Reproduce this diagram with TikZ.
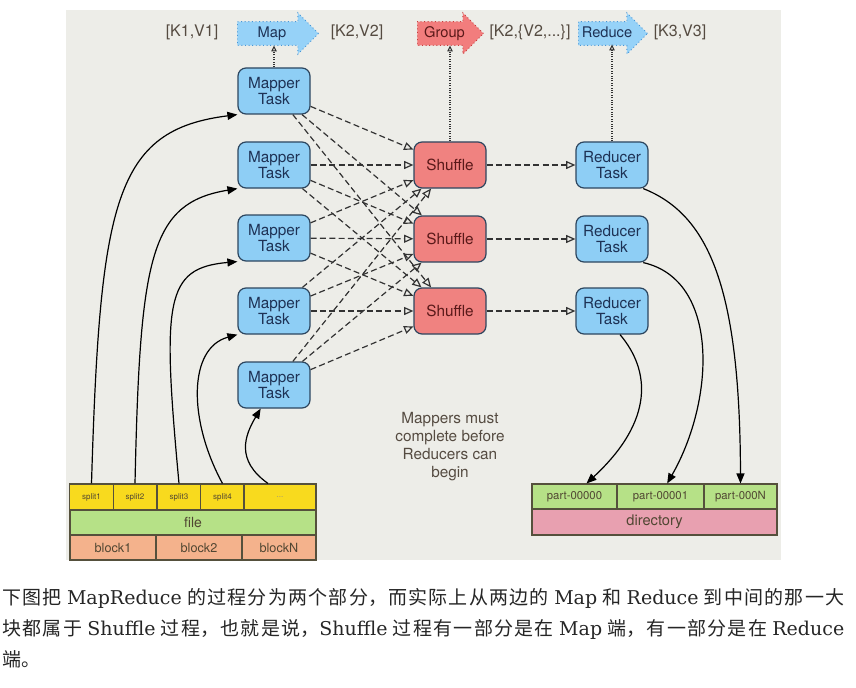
\documentclass[tikz,border=0pt]{standalone}
\usepackage{fontspec}
\setsansfont{TeX Gyre Heros}
\newfontfamily\cjk{Noto Sans CJK SC}
\newfontfamily\latserif{DejaVu Serif}
\usetikzlibrary{positioning, arrows.meta, shapes.arrows}
\definecolor{panelgray}{RGB}{237,237,232}
\definecolor{taskblue}{RGB}{142,206,245}
\definecolor{taskedge}{RGB}{45,70,95}
\definecolor{tasktext}{RGB}{30,50,85}
\definecolor{shufflered}{RGB}{240,130,128}
\definecolor{shuffletext}{RGB}{90,25,25}
\definecolor{stageblue}{RGB}{150,210,248}
\definecolor{stageedge}{RGB}{70,150,215}
\definecolor{stagered}{RGB}{242,125,125}
\definecolor{stagerededge}{RGB}{200,60,60}
\definecolor{splityellow}{RGB}{248,218,30}
\definecolor{filegreen}{RGB}{182,225,135}
\definecolor{blockorange}{RGB}{244,178,140}
\definecolor{dirpink}{RGB}{232,160,176}
\definecolor{celledge}{RGB}{85,80,60}
\definecolor{celltext}{RGB}{80,70,50}
\definecolor{labeltext}{RGB}{85,75,65}
\newcommand{\lat}[1]{{\latserif #1}}
\XeTeXlinebreaklocale "zh"
\XeTeXlinebreakskip=0pt plus 2pt

\begin{document}
\begin{tikzpicture}[x=0.75pt, y=-0.75pt, >=Stealth,
    task/.style={draw=taskedge, fill=taskblue, line width=0.9pt, rounded corners=6pt,
      minimum width=54pt, minimum height=34.5pt, inner sep=0pt, align=center,
      text=tasktext, font=\sffamily\fontsize{11.5}{12.5}\selectfont},
    shuffle/.style={task, fill=shufflered, text=shuffletext},
    stage/.style={single arrow, single arrow head extend=6.5pt, dotted, line width=0.7pt,
      inner xsep=2pt, inner ysep=3.6pt, text height=8pt, text depth=2pt, anchor=tail,
      text=tasktext, font=\sffamily\fontsize{11}{12}\selectfont},
    kv/.style={text=labeltext, font=\sffamily\fontsize{12}{13}\selectfont},
    cell/.style={draw=celledge, line width=0.8pt, inner sep=0pt, minimum height=18.75pt, text=celltext},
    flow/.style={dash pattern=on 4.5pt off 2.5pt, line width=0.9pt, draw=black!80,
      -{Triangle[open, length=7pt, width=6pt]}},
    tostage/.style={densely dotted, line width=0.8pt, draw=black!80,
      -{Triangle[open, length=4.5pt, width=4pt]}},
    feed/.style={line width=0.9pt, -{Triangle[length=7.5pt, width=6pt]}}
  ]
  \useasboundingbox (0,0) rectangle (856,688);
  \fill[white] (0,0) rectangle (856,688);
  \fill[panelgray] (66,10) rectangle (781,560);

  \node[kv] (kv1) at (192,32) {[K1,V1]};
  \node[stage, fill=stageblue, draw=stageedge, minimum height=60.75pt] (map) at (237,33.5) {Map};
  \node[kv] (kv2) at (357,32) {[K2,V2]};
  \node[stage, fill=stagered, draw=stagerededge, text=shuffletext, minimum height=49.5pt] (group) at (417,33.5) {Group};
  \node[kv] (kv3) at (530,32) {[K2,\{V2,...\}]};
  \node[stage, fill=stageblue, draw=stageedge, minimum height=51.75pt] (reduce) at (578,33.5) {Reduce};
  \node[kv] (kv4) at (680,32) {[K3,V3]};

  \foreach \i/\y in {1/91,2/165,3/238,4/311,5/385}
    \node[task] (m\i) at (274,\y) {Mapper\\Task};
  \foreach \j/\y in {1/165,2/239,3/311} {
    \node[shuffle] (s\j) at (450,\y) {Shuffle};
    \node[task] (r\j) at (612,\y) {Reducer\\Task};
  }

  \draw[tostage] (m1.north) -- ++(0,-22);
  \draw[tostage] (s1.north) -- ++(0,-96);
  \draw[tostage] (r1.north) -- ++(0,-97);

  \foreach \i in {1,...,5}
    \foreach \j in {1,2,3}
      \draw[flow] (m\i) -- (s\j);
  \foreach \j in {1,2,3}
    \draw[flow] (s\j) -- (r\j);

  \foreach \k/\x in {1/91.5,2/135,3/179,4/222.5}
    \node[cell, fill=splityellow, minimum width=32.6pt, minimum height=19.5pt,
      font=\sffamily\fontsize{6}{7}\selectfont] (sp\k) at (\x,497) {split\k};
  \node[cell, fill=splityellow, minimum width=54pt, minimum height=19.5pt,
    font=\sffamily\fontsize{6}{7}\selectfont, text=celltext!60] (dots) at (280,497) {...};
  \node[cell, fill=filegreen, minimum width=184.5pt, font=\sffamily\fontsize{10.5}{12}\selectfont] (file) at (193,522.5) {file};
  \node[cell, fill=blockorange, minimum width=64.5pt, font=\sffamily\fontsize{9.5}{11}\selectfont] (b1) at (113,547.5) {block1};
  \node[cell, fill=blockorange, minimum width=64.5pt, font=\sffamily\fontsize{9.5}{11}\selectfont] (b2) at (199,547.5) {block2};
  \node[cell, fill=blockorange, minimum width=55.5pt, font=\sffamily\fontsize{9.5}{11}\selectfont] (bn) at (279,547.5) {blockN};

  \node[cell, fill=filegreen, minimum width=63.75pt, font=\sffamily\fontsize{8.5}{10}\selectfont] (part0) at (574.5,496.5) {part-00000};
  \node[cell, fill=filegreen, minimum width=65.25pt, font=\sffamily\fontsize{8.5}{10}\selectfont] (part1) at (660.5,496.5) {part-00001};
  \node[cell, fill=filegreen, minimum width=54.75pt, font=\sffamily\fontsize{8.5}{10}\selectfont] (partN) at (740.5,496.5) {part-000N};
  \node[cell, fill=dirpink, minimum width=183.75pt, minimum height=19.5pt, font=\sffamily\fontsize{11}{12}\selectfont] (dir) at (654.5,522) {directory};

  \draw[feed] (sp1.north) .. controls (100,200) and (115,130) .. (m1.south west);
  \draw[feed] (sp2.north) .. controls (140,256) and (150,203) .. (m2.south west);
  \draw[feed] (sp3.north) .. controls (162,300) and (165,268) .. (m3.south west);
  \draw[feed] (sp4.north) .. controls (188,420) and (188,348) .. (m4.south west);
  \draw[feed] ([xshift=-9pt]dots.north) .. controls (235,460) and (245,435) .. ([xshift=-10pt]m5.south);

  \draw[feed] ([xshift=-4pt]r1.south east) .. controls (710,215) and (740,290) .. (partN.north);
  \draw[feed] ([xshift=-4pt]r2.south east) .. controls (720,280) and (715,400) .. ([xshift=5pt]part1.north);
  \draw[feed] ([xshift=6pt]r3.south) .. controls (650,370) and (655,420) .. ([xshift=9pt]part0.north);

  \node[kv, align=center, font=\sffamily\fontsize{11.5}{13.5}\selectfont] (note) at (450,447)
    {Mappers must\\complete before\\Reducers can\\begin};

  \node[anchor=north west, inner sep=0pt, text width=631.5pt, align=justify, text=black!85,
    font=\cjk\fontsize{14.25}{23.25}\selectfont] (caption) at (2,588)
    {下图把 \lat{MapReduce} 的过程分为两个部分，而实际上从两边的 \lat{Map} 和 \lat{Reduce} 到中间的那一大\linebreak
     块都属于 \lat{Shuffle} 过程，也就是说，\lat{Shuffle} 过程有一部分是在 \lat{Map} 端，有一部分是在 \lat{Reduce}\linebreak
     端。};
\end{tikzpicture}
\end{document}
